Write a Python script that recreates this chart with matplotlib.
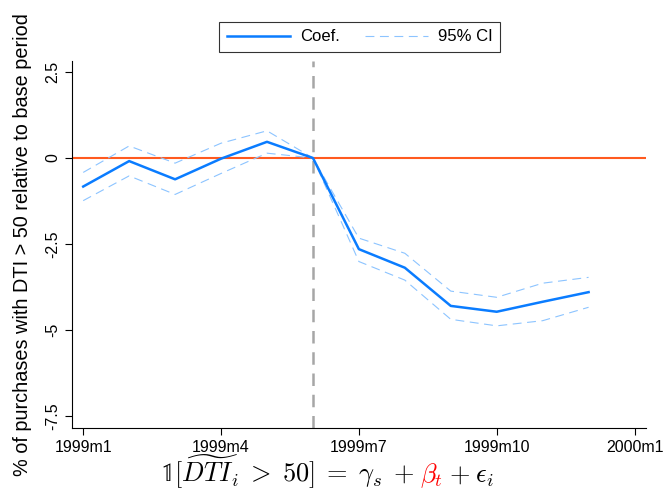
import matplotlib
matplotlib.use('Agg')
import matplotlib.pyplot as plt
import numpy as np

plt.rcParams['font.family'] = ['Liberation Sans', 'DejaVu Sans']
plt.rcParams['mathtext.fontset'] = 'cm'

# monthly event-study estimates, 1999m1 .. 1999m12 (base period 1999m6)
months = np.arange(12)
coef = [-0.83, -0.09, -0.62, -0.02, 0.47, 0.0, -2.65, -3.19, -4.30, -4.47, -4.18, -3.90]
ci_hi = [-0.42, 0.35, -0.15, 0.43, 0.79, 0.0, -2.33, -2.77, -3.87, -4.05, -3.64, -3.47]
ci_lo = [-1.24, -0.52, -1.06, -0.45, 0.14, 0.0, -3.01, -3.55, -4.69, -4.88, -4.73, -4.34]
base_month = 5

xticks = [0, 3, 6, 9, 12]
xlabels = ['1999m1', '1999m4', '1999m7', '1999m10', '2000m1']
yticks = [2.5, 0, -2.5, -5, -7.5]
ylabels = ['2.5', '0', '-2.5', '-5', '-7.5']

fig = plt.figure(figsize=(6.66, 4.97), dpi=100)
ax = fig.add_axes([0.1077, 0.1388, 0.8623, 0.7385])

ax.axhline(0, color='#ff5a1f', linewidth=1.5, zorder=1)
ax.axvline(base_month, color='#a6a6a6', linewidth=1.8, dashes=(5, 3.5), zorder=1)
ax.plot(months, coef, color='#0a7cff', linewidth=1.8, label='Coef.', zorder=3)
ax.plot(months, ci_hi, color='#8cc4ff', linewidth=0.8, dashes=(8, 5), label='95% CI', zorder=2)
ax.plot(months, ci_lo, color='#8cc4ff', linewidth=0.8, dashes=(8, 5), zorder=2)

ax.set_xlim(-0.25, 12.25)
ax.set_ylim(-7.85, 2.82)
ax.set_xticks(xticks)
ax.set_xticklabels(xlabels, fontsize=11.5)
ax.set_yticks(yticks)
ax.set_yticklabels(ylabels, fontsize=11.5, rotation=90, va='center')
ax.tick_params(direction='out', length=5, width=0.8)
for s in ['top', 'right']:
    ax.spines[s].set_visible(False)
ax.set_ylabel('% of purchases with DTI > 50 relative to base period', fontsize=14.3, labelpad=9)

leg = ax.legend(ncol=2, loc='upper center', bbox_to_anchor=(0.54, 0.956),
                bbox_transform=fig.transFigure, fontsize=12, frameon=True,
                fancybox=False, edgecolor='black', handlelength=3.8,
                handletextpad=0.6, columnspacing=1.5, borderpad=0.45,
                borderaxespad=0)
leg.get_frame().set_linewidth(0.8)

# regression equation below the axis, beta_t in red
pieces = [(r'$\mathbb{1}[\widetilde{DTI}_i\;>\;50]\;=\;\gamma_s\;+$', 'black'),
          (r'$\beta_t$', 'red'),
          (r'$+\;\epsilon_i$', 'black')]
fig.canvas.draw()
r = fig.canvas.get_renderer()
texts = []
for s, c in pieces:
    texts.append(fig.text(0, 0.03, s, color=c, fontsize=19, ha='left', va='baseline'))
gap = 6
widths = [t.get_window_extent(r).width for t in texts]
total = sum(widths) + gap * (len(texts) - 1)
x = 327 - total / 2
for t, w in zip(texts, widths):
    t.set_x(x / fig.bbox.width)
    x += w + gap

fig.savefig('out.png', dpi=100)
